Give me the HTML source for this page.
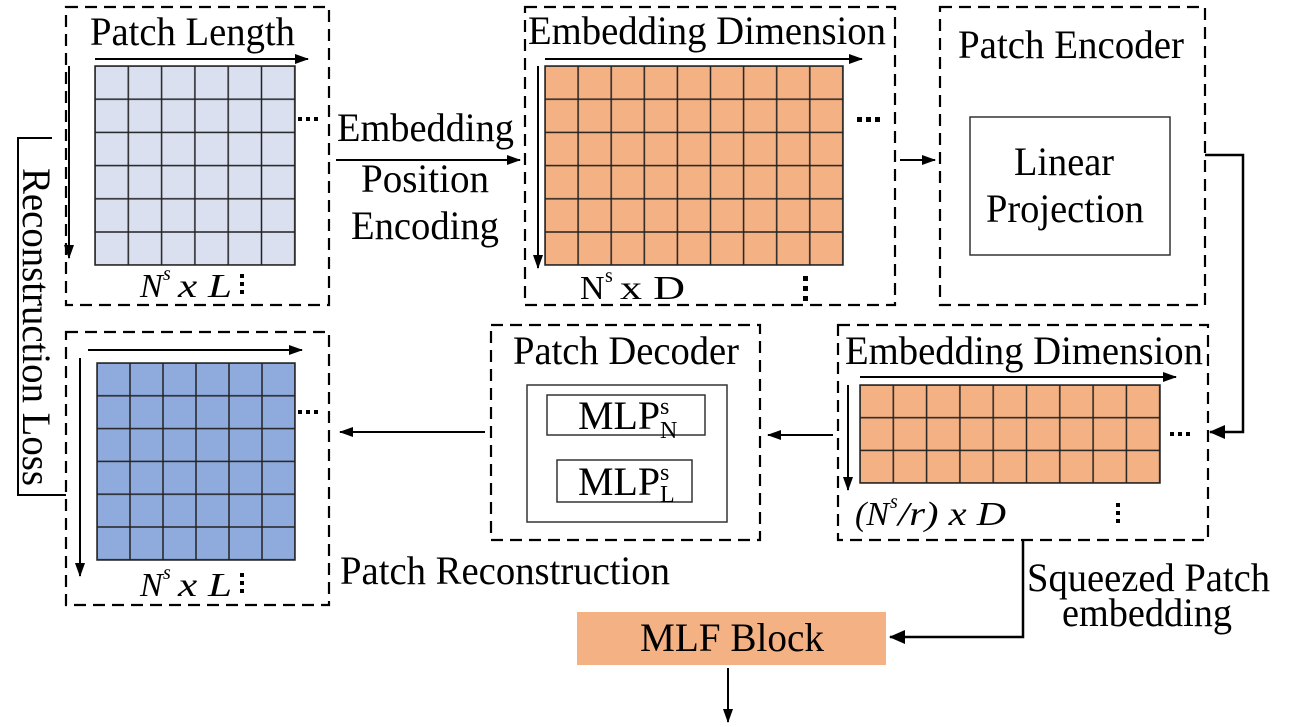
<!DOCTYPE html>
<html><head><meta charset="utf-8"><style>html,body{margin:0;padding:0;background:#fff}svg{display:block}text{font-family:"Liberation Serif",serif;fill:#000}</style></head>
<body>
<svg width="1300" height="727" viewBox="0 0 1300 727" xmlns="http://www.w3.org/2000/svg">
<defs>
<marker id="a" markerWidth="14" markerHeight="10" refX="13" refY="5" orient="auto" markerUnits="userSpaceOnUse"><path d="M0,0 L14,5 L0,10 z" fill="#000"/></marker>
<marker id="b" markerWidth="16" markerHeight="14" refX="15" refY="7" orient="auto" markerUnits="userSpaceOnUse"><path d="M0,0 L16,7 L0,14 z" fill="#000"/></marker>
<pattern id="g1" x="95" y="66" width="33.3" height="33.2" patternUnits="userSpaceOnUse"><rect width="33.3" height="33.2" fill="#dae0f0" stroke="#222" stroke-width="1.5"/></pattern>
<pattern id="g2" x="545" y="66" width="33.1" height="33.2" patternUnits="userSpaceOnUse"><rect width="33.1" height="33.2" fill="#f4b183" stroke="#222" stroke-width="1.5"/></pattern>
<pattern id="g3" x="860" y="385" width="33.3" height="32.7" patternUnits="userSpaceOnUse"><rect width="33.3" height="32.7" fill="#f4b183" stroke="#222" stroke-width="1.5"/></pattern>
<pattern id="g4" x="97" y="363" width="33" height="32.8" patternUnits="userSpaceOnUse"><rect width="33" height="32.8" fill="#8faadc" stroke="#222" stroke-width="1.5"/></pattern>
</defs>
<g fill="none" stroke="#000" stroke-width="2.2" stroke-dasharray="12,7">
<rect x="66" y="7" width="263" height="298"/>
<rect x="525" y="7" width="370" height="298"/>
<rect x="940" y="7" width="265" height="298"/>
<rect x="838" y="325" width="370" height="215"/>
<rect x="491" y="325" width="269" height="215"/>
<rect x="66" y="332" width="263" height="273"/>
</g>
<rect x="95" y="66" width="200" height="199" fill="url(#g1)" stroke="#222" stroke-width="1.5"/>
<rect x="545" y="66" width="298" height="199" fill="url(#g2)" stroke="#222" stroke-width="1.5"/>
<rect x="860" y="385" width="300" height="98" fill="url(#g3)" stroke="#222" stroke-width="1.5"/>
<rect x="97" y="363" width="198" height="197" fill="url(#g4)" stroke="#222" stroke-width="1.5"/>
<g stroke="#000" stroke-width="2" fill="none">
<line x1="95" y1="59" x2="308" y2="59" marker-end="url(#a)"/>
<line x1="69" y1="66" x2="69" y2="258" marker-end="url(#a)"/>
<line x1="545" y1="59" x2="862" y2="59" marker-end="url(#a)"/>
<line x1="538" y1="66" x2="538" y2="268" marker-end="url(#a)"/>
<line x1="860" y1="377" x2="1176" y2="377" marker-end="url(#a)"/>
<line x1="848" y1="385" x2="848" y2="490" marker-end="url(#a)"/>
<line x1="88" y1="350" x2="302" y2="350" marker-end="url(#a)"/>
<line x1="80" y1="358" x2="80" y2="576" marker-end="url(#a)"/>
<line x1="336" y1="160" x2="520" y2="160" marker-end="url(#a)"/>
<line x1="900" y1="160" x2="935" y2="160" marker-end="url(#a)"/>
<polyline points="1205,155 1243,155 1243,432 1210,432" stroke-width="2.5" marker-end="url(#b)"/>
<line x1="833" y1="435" x2="768" y2="435" marker-end="url(#a)"/>
<line x1="485" y1="432" x2="340" y2="432" marker-end="url(#a)"/>
<polyline points="1023,540 1023,637 890,637" stroke-width="2.5" marker-end="url(#b)"/>
<line x1="728" y1="668" x2="728" y2="722" marker-end="url(#a)"/>
<polyline points="52,138 18,138 18,495 66,495"/>
</g>
<rect x="970" y="117" width="200" height="138" fill="none" stroke="#333" stroke-width="1.5"/>
<rect x="527" y="385" width="200" height="137" fill="none" stroke="#333" stroke-width="1.5"/>
<rect x="547" y="395" width="158" height="40" fill="none" stroke="#333" stroke-width="1.5"/>
<rect x="557" y="460" width="135" height="42" fill="none" stroke="#333" stroke-width="1.5"/>
<rect x="577" y="612" width="309" height="53" fill="#f4b183"/>
<g font-size="40">
<text x="90" y="45" textLength="205" lengthAdjust="spacingAndGlyphs">Patch Length</text>
<text x="528" y="44" textLength="358" lengthAdjust="spacingAndGlyphs">Embedding Dimension</text>
<text x="958" y="58" textLength="226" lengthAdjust="spacingAndGlyphs">Patch Encoder</text>
<text x="1014" y="175" textLength="100" lengthAdjust="spacingAndGlyphs">Linear</text>
<text x="986" y="222" textLength="158" lengthAdjust="spacingAndGlyphs">Projection</text>
<text x="337" y="141" textLength="177" lengthAdjust="spacingAndGlyphs">Embedding</text>
<text x="361" y="192" textLength="128" lengthAdjust="spacingAndGlyphs">Position</text>
<text x="351" y="239" textLength="148" lengthAdjust="spacingAndGlyphs">Encoding</text>
<text x="845" y="364" textLength="358" lengthAdjust="spacingAndGlyphs">Embedding Dimension</text>
<text x="513" y="364" textLength="226" lengthAdjust="spacingAndGlyphs">Patch Decoder</text>
<text x="340" y="584" textLength="330" lengthAdjust="spacingAndGlyphs">Patch Reconstruction</text>
<text x="1027" y="591" textLength="243" lengthAdjust="spacingAndGlyphs">Squeezed Patch</text>
<text x="1062" y="626" textLength="170" lengthAdjust="spacingAndGlyphs">embedding</text>
<text x="640" y="651" textLength="184" lengthAdjust="spacingAndGlyphs">MLF Block</text>
<text x="578" y="429" textLength="82" lengthAdjust="spacingAndGlyphs">MLP</text>
<text x="578" y="495" textLength="82" lengthAdjust="spacingAndGlyphs">MLP</text>
<text transform="translate(23,168) rotate(90)" textLength="318" lengthAdjust="spacingAndGlyphs">Reconstruction Loss</text>
</g>
<g font-size="24">
<text x="660" y="414">s</text><text x="660" y="438">N</text>
<text x="660" y="480">s</text><text x="660" y="502">L</text>
</g>
<g font-size="34">
<text x="140" y="297" font-style="italic">N</text><text x="163" y="280" font-size="20" font-style="italic">s</text><text x="178" y="297" font-style="italic" textLength="54" lengthAdjust="spacingAndGlyphs">x L</text>
<text x="140" y="596" font-style="italic">N</text><text x="163" y="579" font-size="20" font-style="italic">s</text><text x="178" y="596" font-style="italic" textLength="54" lengthAdjust="spacingAndGlyphs">x L</text>
<text x="580" y="299">N</text><text x="605" y="282" font-size="20">s</text><text x="620" y="299" textLength="65" lengthAdjust="spacingAndGlyphs">x D</text>
<text x="855" y="525" font-style="italic">(N</text><text x="890" y="508" font-size="20" font-style="italic">s</text><text x="898" y="525" font-style="italic" textLength="108" lengthAdjust="spacingAndGlyphs">/r) x D</text>
</g>
<g fill="#000">
<rect x="298" y="117" width="4" height="4"/><rect x="306" y="117" width="4" height="4"/><rect x="314" y="117" width="4" height="4"/>
<rect x="857" y="117" width="5" height="5"/><rect x="866" y="117" width="5" height="5"/><rect x="875" y="117" width="5" height="5"/>
<rect x="298" y="410" width="4" height="4"/><rect x="306" y="410" width="4" height="4"/><rect x="314" y="410" width="4" height="4"/>
<rect x="1170" y="432" width="4" height="4"/><rect x="1178" y="432" width="4" height="4"/><rect x="1186" y="432" width="4" height="4"/>
<rect x="240" y="274" width="4" height="4"/><rect x="240" y="282" width="4" height="4"/><rect x="240" y="290" width="4" height="4"/>
<rect x="240" y="573" width="4" height="4"/><rect x="240" y="581" width="4" height="4"/><rect x="240" y="589" width="4" height="4"/>
<rect x="803" y="276" width="5" height="5"/><rect x="803" y="286" width="5" height="5"/><rect x="803" y="296" width="5" height="5"/>
<rect x="1116" y="503" width="4" height="4"/><rect x="1116" y="511" width="4" height="4"/><rect x="1116" y="519" width="4" height="4"/>
</g>
</svg>
</body></html>
